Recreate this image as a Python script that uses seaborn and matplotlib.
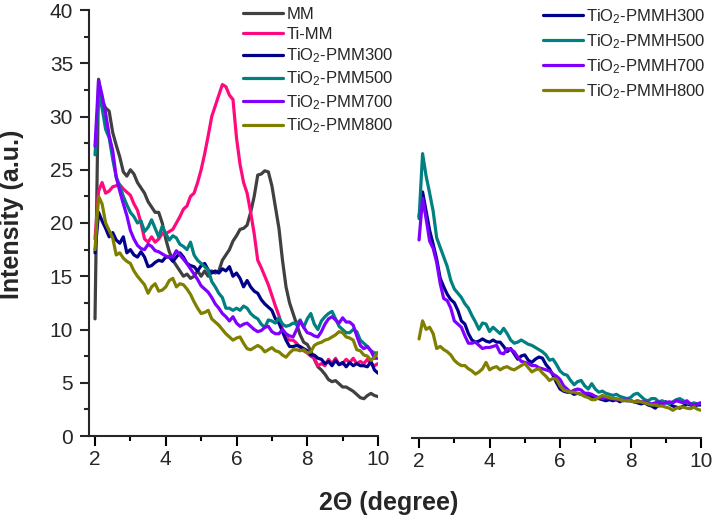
import numpy as np
import pandas as pd
import matplotlib
matplotlib.use("Agg")
import matplotlib.pyplot as plt
from matplotlib.ticker import MultipleLocator
import seaborn as sns

# ---------------- data ----------------
two_theta = [round(2.0 + 0.1 * i, 1) for i in range(81)]

mm = [11.0, 33.5, 31.5, 30.8, 30.5, 28.5, 27.3, 26.2, 24.8, 24.4,
      25.0, 24.6, 23.8, 23.3, 22.8, 22.0, 21.5, 21.0, 21.0, 20.0,
      18.5, 17.3, 16.5, 16.0, 15.5, 15.0, 15.2, 14.8, 15.0, 15.5,
      15.0, 15.5, 15.0, 15.5, 15.3, 15.5, 16.5, 17.0, 17.5, 18.3,
      18.8, 19.4, 19.5, 19.8, 21.0, 22.5, 24.5, 24.6, 24.9, 24.8,
      23.5, 21.5, 19.5, 16.5, 14.0, 12.5, 11.5, 10.5, 9.5, 8.8,
      8.6, 8.0, 7.2, 6.5, 6.2, 5.8, 5.3, 5.1, 5.2, 4.9,
      4.6, 4.6, 4.4, 4.2, 3.9, 3.6, 3.5, 3.8, 4.0, 3.8, 3.7]

ti_mm = [18.5, 23.0, 23.8, 22.8, 23.0, 23.4, 23.5, 23.6, 23.2, 22.9,
         22.6, 21.8, 21.2, 20.0, 18.5, 18.2, 18.7, 18.2, 18.5, 19.0,
         19.0, 19.2, 19.4, 20.0, 20.6, 21.3, 21.6, 22.5, 22.8, 23.8,
         25.0, 26.5, 28.2, 30.0, 31.0, 32.0, 33.0, 32.8, 32.0, 31.6,
         28.0, 25.5, 23.8, 22.8, 21.0, 19.0, 16.5, 15.8, 15.0, 14.2,
         13.2, 12.2, 11.3, 10.0, 9.3, 9.0, 9.0, 8.7, 8.3, 8.0,
         7.8, 7.5, 7.3, 6.6, 6.8, 6.6, 7.2, 6.8, 7.3, 6.7,
         6.8, 7.2, 6.9, 7.3, 6.8, 7.0, 6.8, 7.2, 6.8, 6.6, 6.8]

pmm300 = [17.2, 21.0, 20.2, 19.5, 18.7, 19.1, 18.4, 18.1, 18.7, 17.2,
          17.5, 17.0, 16.8, 17.3, 16.8, 15.9, 16.0, 16.3, 16.5, 16.4,
          16.8, 16.8, 16.4, 16.8, 17.2, 16.8, 16.2, 16.0, 15.9, 15.5,
          16.0, 16.2, 15.6, 15.3, 15.5, 15.3, 15.7, 15.5, 15.9, 15.0,
          15.3, 14.8, 14.0, 14.6, 14.0, 13.6, 13.4, 12.8, 12.4, 12.1,
          11.8, 11.0, 10.6, 9.8, 9.0, 8.4, 8.4, 8.5, 8.4, 8.2,
          8.0, 7.6, 7.6, 7.3, 7.2, 6.8, 7.0, 6.6, 7.1, 6.7,
          6.9, 6.5, 6.9, 6.6, 6.8, 6.6, 6.6, 6.5, 7.0, 6.2, 5.9]

pmm500 = [26.4, 32.0, 30.8, 28.8, 28.0, 26.0, 24.3, 23.5, 22.5, 21.7,
          21.0, 20.6, 20.0, 20.2, 19.2, 19.6, 20.3, 19.5, 18.7, 19.7,
          19.0, 18.4, 18.8, 18.6, 18.0, 17.8, 17.5, 18.2, 17.0, 16.5,
          16.2, 15.9, 15.6, 14.5, 14.0, 13.4, 13.0, 12.0, 12.0, 11.8,
          12.0, 11.8, 12.2, 12.0, 11.5, 11.2, 11.0, 10.5, 10.2, 10.9,
          10.8, 10.6, 11.1, 10.5, 10.3, 10.4, 10.6, 10.5, 10.9, 10.2,
          11.0, 11.5, 10.5, 10.0, 10.8, 11.2, 11.5, 11.7, 11.0, 10.3,
          10.0, 9.7, 9.7, 10.0, 9.8, 9.0, 8.7, 8.4, 8.0, 7.8, 7.8]

pmm700 = [27.2, 33.4, 32.0, 30.3, 28.2, 26.8, 24.3, 23.0, 21.8, 20.7,
          19.3, 18.5, 17.9, 17.6, 17.5, 18.0, 17.8, 17.4, 17.3, 17.1,
          16.9, 16.8, 16.8, 17.4, 17.0, 16.6, 16.2, 15.7, 15.2, 14.7,
          14.1, 13.8, 13.5, 13.0, 12.4, 12.0, 11.5, 11.2, 10.8, 11.2,
          10.6, 10.3, 10.5, 10.6, 10.3, 10.0, 9.8, 9.9, 10.2, 10.3,
          9.8, 9.6, 9.6, 10.0, 9.6, 9.4, 9.3, 10.0, 10.8, 10.2,
          9.7, 9.6, 9.4, 9.3, 9.8, 10.5, 11.0, 11.2, 10.9, 10.6,
          11.1, 10.7, 10.7, 10.4, 9.4, 8.5, 8.2, 8.4, 8.0, 7.3, 7.3]

pmm800 = [17.5, 22.5, 21.8, 20.0, 19.3, 18.6, 17.0, 17.2, 16.7, 16.4,
          16.2, 15.5, 15.0, 14.6, 14.2, 13.4, 14.0, 14.3, 13.6, 13.7,
          14.0, 14.6, 14.8, 14.0, 14.3, 14.2, 13.8, 13.3, 12.6, 12.0,
          11.5, 11.6, 11.8, 11.0, 10.7, 10.4, 10.0, 9.6, 9.3, 9.0,
          9.2, 9.3, 8.7, 8.2, 8.1, 8.3, 8.5, 8.3, 7.9, 8.1,
          8.3, 8.0, 7.9, 7.6, 7.4, 7.8, 8.1, 8.1, 8.0, 8.1,
          7.8, 7.9, 8.5, 8.7, 8.8, 9.0, 9.1, 9.3, 9.5, 9.8,
          9.7, 9.3, 9.2, 9.0, 8.1, 8.0, 7.6, 7.5, 7.1, 7.4, 7.8]

pmmh300 = [20.8, 23.1, 21.3, 19.5, 18.2, 16.8, 15.0, 14.2, 13.5, 13.0,
           12.7, 12.0, 11.0, 10.7, 9.8, 9.2, 9.0, 9.1, 9.3, 9.1,
           9.0, 9.2, 9.0, 9.0, 8.6, 8.1, 8.4, 7.9, 7.4, 7.7,
           7.8, 7.3, 7.1, 7.4, 7.6, 7.5, 6.9, 6.5, 5.9, 5.2,
           4.6, 4.4, 4.3, 4.3, 4.1, 4.2, 4.1, 4.0, 4.0, 3.8,
           3.9, 3.7, 3.6, 3.5, 3.6, 3.5, 3.6, 3.4, 3.6, 3.5,
           3.5, 3.4, 3.3, 3.2, 3.3, 3.1, 3.0, 2.8, 3.1, 3.3,
           3.4, 3.2, 3.0, 2.9, 2.8, 3.0, 3.2, 3.1, 3.0, 3.1, 3.1]

pmmh500 = [20.6, 26.7, 24.6, 23.0, 21.3, 18.8, 17.9, 17.0, 16.1, 14.8,
           14.0, 13.6, 13.2, 12.6, 12.2, 11.5, 10.9, 10.2, 10.8, 10.7,
           10.0, 10.4, 10.1, 9.8, 10.3, 9.8, 9.2, 8.9, 9.0, 9.2,
           9.0, 8.8, 8.7, 8.5, 8.3, 8.1, 7.8, 7.3, 7.4, 6.9,
           6.3, 6.0, 5.9, 5.4, 5.0, 5.3, 5.4, 4.9, 4.6, 5.1,
           4.6, 4.3, 4.4, 4.2, 4.1, 4.0, 4.1, 3.9, 3.8, 3.7,
           3.8, 4.1, 4.2, 3.9, 3.6, 3.5, 3.7, 3.7, 3.4, 3.5,
           3.3, 3.2, 3.4, 3.6, 3.7, 3.5, 3.3, 3.2, 3.3, 3.2, 3.3]

pmmh700 = [18.6, 22.5, 20.6, 18.5, 17.8, 16.5, 14.5, 13.1, 12.9, 12.2,
           11.0, 10.7, 10.4, 9.6, 8.9, 8.9, 9.0, 8.7, 8.4, 8.5,
           8.5, 8.6, 8.7, 8.0, 7.9, 8.4, 8.3, 8.1, 7.6, 7.2,
           7.1, 7.0, 6.8, 6.8, 6.6, 6.5, 6.4, 6.3, 6.0, 5.8,
           5.5, 4.9, 4.6, 4.3, 4.5, 4.6, 4.5, 4.2, 4.2, 4.1,
           3.9, 3.8, 3.7, 3.8, 3.7, 3.7, 3.6, 3.6, 3.5, 3.6,
           3.5, 3.4, 3.5, 3.4, 3.4, 3.3, 3.2, 3.3, 3.4, 3.2,
           3.3, 3.4, 3.3, 3.5, 3.4, 3.3, 3.5, 3.2, 3.1, 3.2, 3.3]

pmmh800 = [9.3, 11.0, 10.2, 10.4, 9.8, 8.4, 8.6, 8.3, 8.1, 7.8,
           7.3, 7.0, 6.8, 6.8, 6.5, 6.3, 6.0, 6.2, 6.5, 7.1,
           6.4, 6.6, 6.7, 6.4, 6.6, 6.7, 6.5, 6.4, 6.6, 6.8,
           7.0, 6.6, 6.2, 6.4, 6.5, 6.1, 5.8, 5.4, 5.6, 5.5,
           4.9, 4.5, 4.4, 4.3, 4.3, 4.2, 4.1, 3.9, 3.8, 3.6,
           3.6, 3.8, 4.0, 3.9, 3.8, 3.7, 3.7, 3.6, 3.5, 3.5,
           3.5, 3.4, 3.4, 3.4, 3.3, 3.2, 3.1, 3.1, 3.0, 3.0,
           2.9, 2.8, 2.6, 2.8, 2.9, 2.9, 2.8, 2.75, 2.9, 2.7, 2.6]

left_labels = ["MM", "Ti-MM", r"TiO$_2$-PMM300", r"TiO$_2$-PMM500",
               r"TiO$_2$-PMM700", r"TiO$_2$-PMM800"]
left_series = [mm, ti_mm, pmm300, pmm500, pmm700, pmm800]
left_colors = ["#404040", "#FF0A7E", "#00008B", "#008080", "#8000FF", "#808000"]

right_labels = [r"TiO$_2$-PMMH300", r"TiO$_2$-PMMH500",
                r"TiO$_2$-PMMH700", r"TiO$_2$-PMMH800"]
right_series = [pmmh300, pmmh500, pmmh700, pmmh800]
right_colors = ["#00008B", "#008080", "#8000FF", "#808000"]

x_ticks = [2, 4, 6, 8, 10]
y_ticks = [0, 5, 10, 15, 20, 25, 30, 35, 40]

# ---------------- style ----------------
sns.set_style("ticks")
plt.rcParams["font.family"] = ["Liberation Sans", "DejaVu Sans"]
plt.rcParams["mathtext.default"] = "regular"

W, H = 716, 520
fig = plt.figure(figsize=(W / 100, H / 100), dpi=100)

def px_rect(x0, x1, ytop, ybot):
    return [x0 / W, 1 - ybot / H, (x1 - x0) / W, (ybot - ytop) / H]

ax1 = fig.add_axes(px_rect(89, 378, 10, 436))
ax2 = fig.add_axes(px_rect(412, 701, 12, 438))

for lab, ys, c in zip(left_labels, left_series, left_colors):
    sns.lineplot(x=two_theta, y=ys, color=c, label=lab, ax=ax1, linewidth=2.3)
for lab, ys, c in zip(right_labels, right_series, right_colors):
    sns.lineplot(x=two_theta, y=ys, color=c, label=lab, ax=ax2, linewidth=2.3)

for ax, xl in ((ax1, 1.83), (ax2, 1.80)):
    ax.set_xlim(xl, 10)
    ax.set_ylim(0, 40)
    ax.set_xticks(x_ticks)
    ax.xaxis.set_minor_locator(MultipleLocator(1))
    ax.tick_params(axis="x", which="major", direction="out", length=7, width=1.5,
                   labelsize=15, pad=3, color="black")
    ax.tick_params(axis="x", which="minor", direction="out", length=3.5, width=1.5,
                   color="black")
    ax.set_xlabel("")
    ax.set_ylabel("")
    for s in ("top", "right"):
        ax.spines[s].set_visible(False)
    ax.spines["bottom"].set_linewidth(1.5)
    ax.spines["left"].set_linewidth(1.5)
    ax.patch.set_alpha(0)

ax1.set_yticks(y_ticks)
ax1.yaxis.set_minor_locator(MultipleLocator(2.5))
ax1.tick_params(axis="y", which="major", direction="out", length=6.5, width=1.5,
                labelsize=15, pad=5)
ax1.tick_params(axis="y", which="minor", direction="out", length=3.5, width=1.5)

ax2.spines["left"].set_visible(False)
ax2.tick_params(axis="y", which="both", left=False, labelleft=False)

leg1 = ax1.legend(loc="upper left", bbox_to_anchor=(243 / W, 1 - 7 / H),
                  bbox_transform=fig.transFigure, frameon=False, fontsize=12,
                  handlelength=2.4, handletextpad=0.2, labelspacing=0.28,
                  borderpad=0, borderaxespad=0)
leg2 = ax2.legend(loc="upper left", bbox_to_anchor=(543 / W, 1 - 7 / H),
                  bbox_transform=fig.transFigure, frameon=False, fontsize=12,
                  handlelength=2.4, handletextpad=0.2, labelspacing=0.38,
                  borderpad=0, borderaxespad=0)
for leg in (leg1, leg2):
    for h in leg.get_lines():
        h.set_linewidth(2.3)

fig.text(12 / W, 1 - 214 / H, "Intensity (a.u.)", rotation=90, ha="center",
         va="center", fontsize=18, fontweight="bold")
fig.text(389 / W, 10 / H, "2\u0398 (degree)", ha="center", va="baseline",
         fontsize=18, fontweight="bold")

fig.savefig("out.png", dpi=100)
